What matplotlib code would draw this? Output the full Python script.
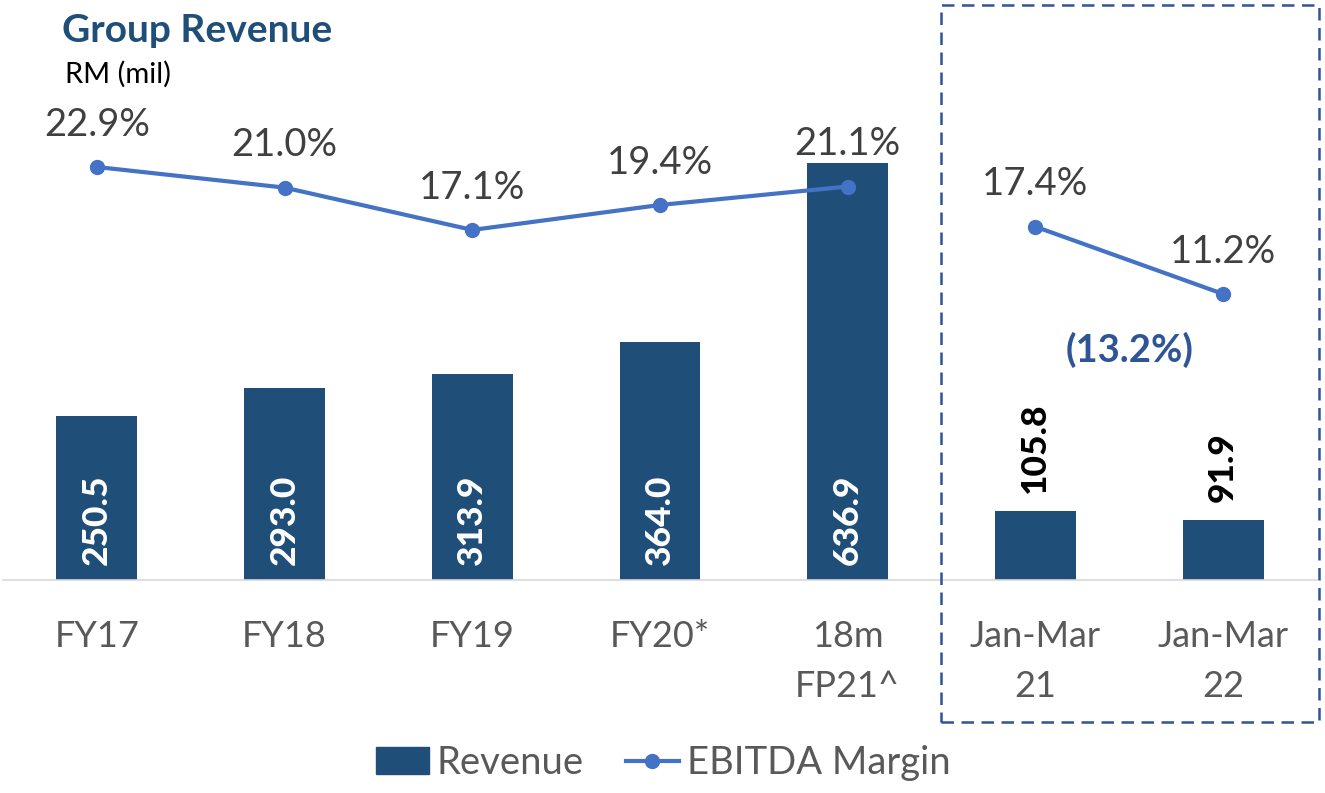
import matplotlib.pyplot as plt
from matplotlib.patches import Rectangle, Patch
from matplotlib.lines import Line2D

# data
categories = ["FY17", "FY18", "FY19", "FY20*", "18m\nFP21^", "Jan-Mar\n21", "Jan-Mar\n22"]
revenue = [250.5, 293.0, 313.9, 364.0, 636.9, 105.8, 91.9]
margin = [22.9, 21.0, 17.1, 19.4, 21.1, 17.4, 11.2]
change_label = "(13.2%)"

bar_color = "#1F4E79"
line_color = "#4472C4"
text_gray = "#595959"
label_gray = "#404040"

plt.rcParams['font.family'] = ['Lato', 'DejaVu Sans']

fig = plt.figure(figsize=(13.25, 7.93), dpi=100)
ax = fig.add_axes([3 / 1325, 213 / 793, 1314 / 1325, 550 / 793])

x = list(range(len(categories)))
bars = ax.bar(x, revenue, width=0.43, color=bar_color, zorder=2)
ax.set_xlim(-0.5, len(categories) - 0.5)
ax.set_ylim(0, 840)
ax.set_yticks([])
for s in ["top", "right", "left"]:
    ax.spines[s].set_visible(False)
ax.spines["bottom"].set_color("#D9D9D9")
ax.spines["bottom"].set_linewidth(1.2)
ax.set_xticks(x)
ax.set_xticklabels(categories, fontsize=26, color=text_gray, linespacing=1.62)
ax.tick_params(axis="x", length=0, pad=29)

# bar value labels: inside base for full years, above bar for quarters
for i, v in enumerate(revenue):
    if i < 5:
        ax.annotate(f"{v:.1f}", (i, 0), xytext=(0, 11), textcoords="offset points",
                    rotation=90, ha="center", va="bottom", color="white",
                    fontsize=25.5, fontweight="black")
    else:
        ax.annotate(f"{v:.1f}", (i, v), xytext=(0, 13), textcoords="offset points",
                    rotation=90, ha="center", va="bottom", color="black",
                    fontsize=25.5, fontweight="black")

# EBITDA margin on secondary axis, two separate segments
ax2 = ax.twinx()
ax2.set_ylim(-15.15, 35.52)
ax2.axis("off")
ax2.plot(x[:5], margin[:5], color=line_color, lw=3, marker="o", ms=10)
ax2.plot(x[5:], margin[5:], color=line_color, lw=3, marker="o", ms=10)
for i, m in enumerate(margin):
    ax2.annotate(f"{m:.1f}%", (i, m), xytext=(0, 22.5), textcoords="offset points",
                 ha="center", va="baseline", fontsize=27.5, color=label_gray)

ax.text(5.5, (580 - 362) / 550, change_label, transform=ax.get_xaxis_transform(),
        ha="center", va="baseline", fontsize=27.5, fontweight="bold", color="#2F5597")

# titles
fig.text(62 / 1325, 1 - 42 / 793, "Group Revenue", fontsize=28, fontweight="bold",
         color=bar_color, va="baseline")
fig.text(65 / 1325, 1 - 83 / 793, "RM (mil)", fontsize=21, color="black", va="baseline")

# dashed box around the quarterly comparison
box = Rectangle((941 / 1325, 71 / 793), 378 / 1325, 717 / 793, transform=fig.transFigure,
                fill=False, edgecolor="#2F5597", lw=1.8, linestyle=(0, (5, 3)))
fig.patches.append(box)

handles = [Patch(color=bar_color, label="Revenue"),
           Line2D([], [], color=line_color, lw=3, marker="o", ms=10, label="EBITDA Margin")]
leg = fig.legend(handles=handles, loc="center", bbox_to_anchor=(663 / 1325, 1 - 763 / 793),
                 ncol=2, frameon=False, fontsize=27.5, handlelength=1.4, handletextpad=0.2,
                 columnspacing=1.1)
for t in leg.get_texts():
    t.set_color(text_gray)

fig.savefig("out.png", dpi=100)
